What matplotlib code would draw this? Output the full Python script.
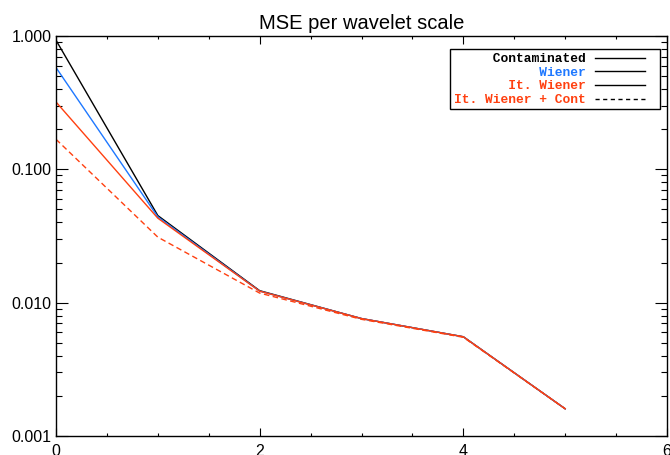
import matplotlib
matplotlib.use("Agg")
import matplotlib.pyplot as plt
from matplotlib.patches import Rectangle
from matplotlib.ticker import MultipleLocator, LogLocator, FixedFormatter, NullFormatter

plt.rcParams["font.family"] = ["Liberation Sans", "DejaVu Sans"]

# ---- data ----
scales = [0, 1, 2, 3, 4, 5]
mse_contaminated = [0.93, 0.045, 0.0123, 0.0076, 0.00555, 0.0016]
mse_wiener = [0.58, 0.044, 0.0122, 0.0076, 0.00555, 0.0016]
mse_it_wiener = [0.32, 0.043, 0.0122, 0.0076, 0.00555, 0.0016]
mse_it_wiener_cont = [0.168, 0.031, 0.0118, 0.0075, 0.0055, 0.0016]

labels = ["Contaminated", "Wiener", "It. Wiener", "It. Wiener + Cont"]
colors = ["#000000", "#1e78ff", "#ff4010", "#ff4010"]
ytick_vals = [0.001, 0.01, 0.1, 1.0]
ytick_labels = ["0.001", "0.010", "0.100", "1.000"]

W, H = 670, 455
fig = plt.figure(figsize=(W / 100, H / 100), dpi=100)
ax = fig.add_axes([56 / W, 1 - 436 / H, 611 / W, 400 / H])

series = [mse_contaminated, mse_wiener, mse_it_wiener, mse_it_wiener_cont]
styles = ["-", "-", "-", "--"]
for ys, c, ls in zip(series, colors, styles):
    ln, = ax.plot(scales, ys, color=c, lw=1.0, ls=ls)
    if ls == "--":
        ln.set_dashes((4, 2.5))

ax.set_yscale("log")
ax.set_xlim(0, 6)
ax.set_ylim(0.001, 1.0)
ax.set_title("MSE per wavelet scale", fontsize=14.5, pad=5)

ax.xaxis.set_major_locator(MultipleLocator(2))
ax.xaxis.set_minor_locator(MultipleLocator(0.5))
ax.set_yticks(ytick_vals)
ax.yaxis.set_major_formatter(FixedFormatter(ytick_labels))
ax.yaxis.set_minor_locator(LogLocator(base=10, subs=range(2, 10)))
ax.yaxis.set_minor_formatter(NullFormatter())

ax.tick_params(axis="both", which="both", direction="in", top=True, right=True,
               labelsize=11.5, width=0.8)
ax.tick_params(axis="x", which="major", length=5.5, pad=6)
ax.tick_params(axis="x", which="minor", length=2.5)
ax.tick_params(axis="y", which="major", length=8.5, pad=3)
ax.tick_params(axis="y", which="minor", length=4.5)
for sp in ax.spines.values():
    sp.set_linewidth(1.0)

# legend: text right-aligned by padding a monospace font, box drawn separately
width = max(len(s) for s in labels)
handles = [plt.Line2D([], [], color="black", lw=1.0, ls=ls) for ls in styles]
handles[3].set_dashes((3, 2.5))
leg = ax.legend(handles, [s.rjust(width) for s in labels], loc="upper right",
                bbox_to_anchor=(645 / W, 1 - 53 / H), bbox_transform=fig.transFigure,
                markerfirst=False,
                prop={"family": "Liberation Mono", "weight": "bold", "size": 9.3},
                frameon=False, handlelength=3.9, handletextpad=0.7,
                labelspacing=0.13, borderpad=0, borderaxespad=0)
for txt, c in zip(leg.get_texts(), colors):
    txt.set_color(c)
fig.patches.append(Rectangle((450 / W, 1 - 109 / H), 210 / W, 60 / H,
                             transform=fig.transFigure, fill=False,
                             edgecolor="black", lw=1.0))

fig.savefig("out.png", dpi=100)
